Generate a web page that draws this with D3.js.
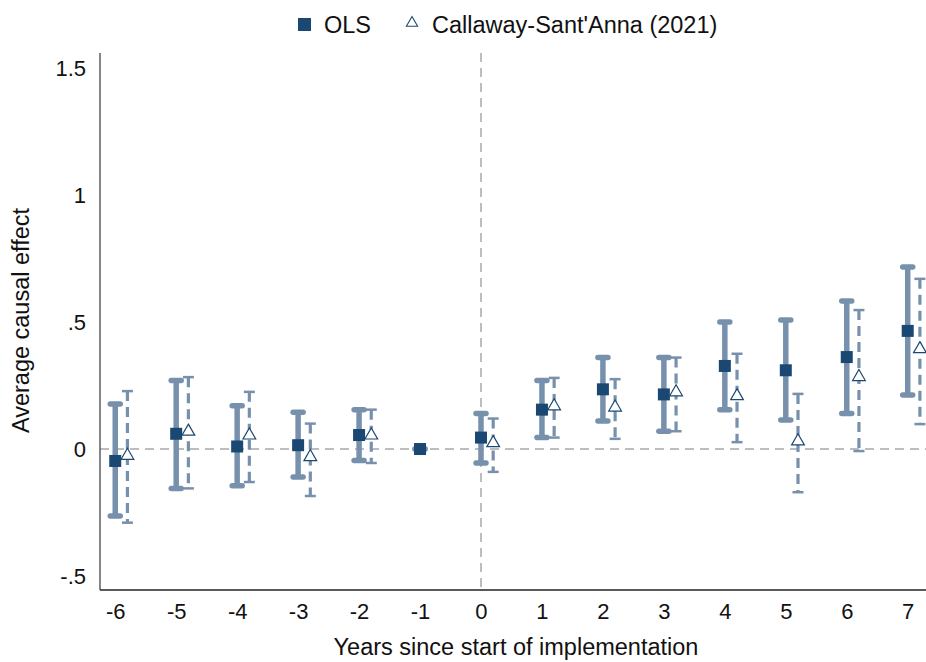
<!DOCTYPE html>
<html>
<head>
<meta charset="utf-8">
<script src="https://cdn.jsdelivr.net/npm/d3@7"></script>
<style>
  html, body { margin: 0; padding: 0; background: #fff; }
  svg { display: block; font-family: "Liberation Sans", Arial, Helvetica, sans-serif; }
</style>
</head>
<body>
<svg id="chart" width="926" height="662"></svg>
<script>
// Event time (years since start of implementation)
const years = [-6, -5, -4, -3, -2, -1, 0, 1, 2, 3, 4, 5, 6, 7];

// OLS estimates and 95% confidence bounds
const olsEst   = [-0.047, 0.060, 0.010, 0.015, 0.055, 0.000, 0.045, 0.155, 0.235, 0.215, 0.327, 0.310, 0.362, 0.465];
const olsLow   = [-0.264, -0.155, -0.145, -0.110, -0.045, 0.000, -0.055, 0.045, 0.110, 0.070, 0.155, 0.114, 0.140, 0.213];
const olsHigh  = [0.177, 0.270, 0.170, 0.145, 0.155, 0.000, 0.140, 0.270, 0.360, 0.360, 0.500, 0.508, 0.583, 0.717];

// Callaway-Sant'Anna (2021) estimates and bounds (reference period omitted)
const csEst    = [-0.030, 0.065, 0.050, -0.035, 0.050, null, 0.020, 0.165, 0.160, 0.220, 0.205, 0.027, 0.280, 0.390];
const csLow    = [-0.290, -0.155, -0.130, -0.185, -0.055, null, -0.090, 0.045, 0.040, 0.070, 0.027, -0.170, -0.008, 0.098];
const csHigh   = [0.228, 0.283, 0.225, 0.100, 0.155, null, 0.120, 0.280, 0.275, 0.360, 0.375, 0.217, 0.547, 0.670];

const yTickValues = [-0.5, 0, 0.5, 1, 1.5];
const yTickLabels = ["-.5", "0", ".5", "1", "1.5"];

const seriesNames = ["OLS", "Callaway-Sant'Anna (2021)"];

const navy = "#1a4872";
const ciColor = "#7791ad";
const font = "Liberation Sans, Arial, sans-serif";

const svg = d3.select("#chart");
const plotLeft = 100, plotRight = 926, plotTop = 53, plotBottom = 590;

const x = d3.scaleLinear().domain([-6.25, 7.3]).range([plotLeft, plotRight]);
const y = d3.scaleLinear().domain([-0.555, 1.559]).range([plotBottom, plotTop]);
const csShift = 0.2; // horizontal offset of the second estimator, in years

// Reference lines at zero
svg.append("line")
  .attr("x1", plotLeft).attr("x2", plotRight)
  .attr("y1", y(0)).attr("y2", y(0))
  .attr("stroke", "#a8a8a8").attr("stroke-width", 1.5)
  .attr("stroke-dasharray", "9,6");
svg.append("line")
  .attr("x1", x(0)).attr("x2", x(0))
  .attr("y1", plotTop).attr("y2", plotBottom)
  .attr("stroke", "#a8a8a8").attr("stroke-width", 1.5)
  .attr("stroke-dasharray", "9,6");

// Axes
const yAxis = d3.axisLeft(y).tickValues(yTickValues)
  .tickFormat((d, i) => yTickLabels[i]).tickSize(0).tickPadding(14);
const gy = svg.append("g").attr("transform", `translate(${plotLeft},0)`).call(yAxis);
gy.select(".domain").attr("stroke", "#444").attr("stroke-width", 1.3).attr("d", `M0,${plotTop}V${plotBottom}`);
gy.selectAll("text").attr("font-size", 22).attr("fill", "#111").attr("font-family", font);

const xAxis = d3.axisBottom(x).tickValues(years).tickFormat(d => String(d)).tickSize(0).tickPadding(13);
const gx = svg.append("g").attr("transform", `translate(0,${plotBottom})`).call(xAxis);
gx.select(".domain").attr("stroke", "#222").attr("stroke-width", 1.3).attr("d", `M${plotLeft},0H${plotRight}`);
gx.selectAll("text").attr("font-size", 22).attr("fill", "#111").attr("font-family", font);

// Axis titles
svg.append("text")
  .attr("x", 516).attr("y", 655)
  .attr("text-anchor", "middle").attr("font-size", 23.5).attr("fill", "#111")
  .text("Years since start of implementation");
svg.append("text")
  .attr("transform", `translate(29,${(plotTop + plotBottom) / 2 - 1}) rotate(-90)`)
  .attr("text-anchor", "middle").attr("font-size", 23.5).attr("fill", "#111")
  .text("Average causal effect");

// OLS confidence intervals: thick bars with rounded caps
const ols = years.map((d, i) => ({ t: d, est: olsEst[i], lo: olsLow[i], hi: olsHigh[i] }));
const gOls = svg.append("g");
ols.forEach(d => {
  const cx = x(d.t);
  gOls.append("line")
    .attr("x1", cx).attr("x2", cx).attr("y1", y(d.lo)).attr("y2", y(d.hi))
    .attr("stroke", ciColor).attr("stroke-width", 5.5);
  [d.lo, d.hi].forEach(v => {
    gOls.append("line")
      .attr("x1", cx - 5).attr("x2", cx + 5).attr("y1", y(v)).attr("y2", y(v))
      .attr("stroke", ciColor).attr("stroke-width", 5.5).attr("stroke-linecap", "round");
  });
});

// Callaway-Sant'Anna intervals: dashed lines with thin caps
const cs = years.map((d, i) => ({ t: d, est: csEst[i], lo: csLow[i], hi: csHigh[i] }))
  .filter(d => d.est !== null);
const gCs = svg.append("g");
cs.forEach(d => {
  const cx = x(d.t + csShift);
  gCs.append("line")
    .attr("x1", cx).attr("x2", cx).attr("y1", y(d.hi)).attr("y2", y(d.lo))
    .attr("stroke", ciColor).attr("stroke-width", 3.2).attr("stroke-dasharray", "10,6");
  [d.lo, d.hi].forEach(v => {
    gCs.append("line")
      .attr("x1", cx - 5.5).attr("x2", cx + 5.5).attr("y1", y(v)).attr("y2", y(v))
      .attr("stroke", ciColor).attr("stroke-width", 2.5);
  });
});

// Point estimates
const sq = 12;
svg.append("g").selectAll("rect").data(ols).join("rect")
  .attr("x", d => x(d.t) - sq / 2).attr("y", d => y(d.est) - sq / 2)
  .attr("width", sq).attr("height", sq).attr("fill", navy);

const tri = d3.symbol().type(d3.symbolTriangle).size(70);
svg.append("g").selectAll("path").data(cs).join("path")
  .attr("d", tri)
  .attr("transform", d => `translate(${x(d.t + csShift)},${y(d.est) - 1})`)
  .attr("fill", "#fff").attr("stroke", navy).attr("stroke-width", 1.2);

// Legend
const lg = svg.append("g");
lg.append("rect").attr("x", 298).attr("y", 18).attr("width", 13).attr("height", 13).attr("fill", navy);
lg.append("text").attr("x", 324).attr("y", 33).attr("font-size", 23.5).attr("fill", "#111").text(seriesNames[0]);
lg.append("path").attr("d", d3.symbol().type(d3.symbolTriangle).size(55))
  .attr("transform", "translate(412,23)")
  .attr("fill", "#fff").attr("stroke", navy).attr("stroke-width", 1.1);
lg.append("text").attr("x", 432).attr("y", 33).attr("font-size", 23.5).attr("fill", "#111").text(seriesNames[1]);
</script>
</body>
</html>
